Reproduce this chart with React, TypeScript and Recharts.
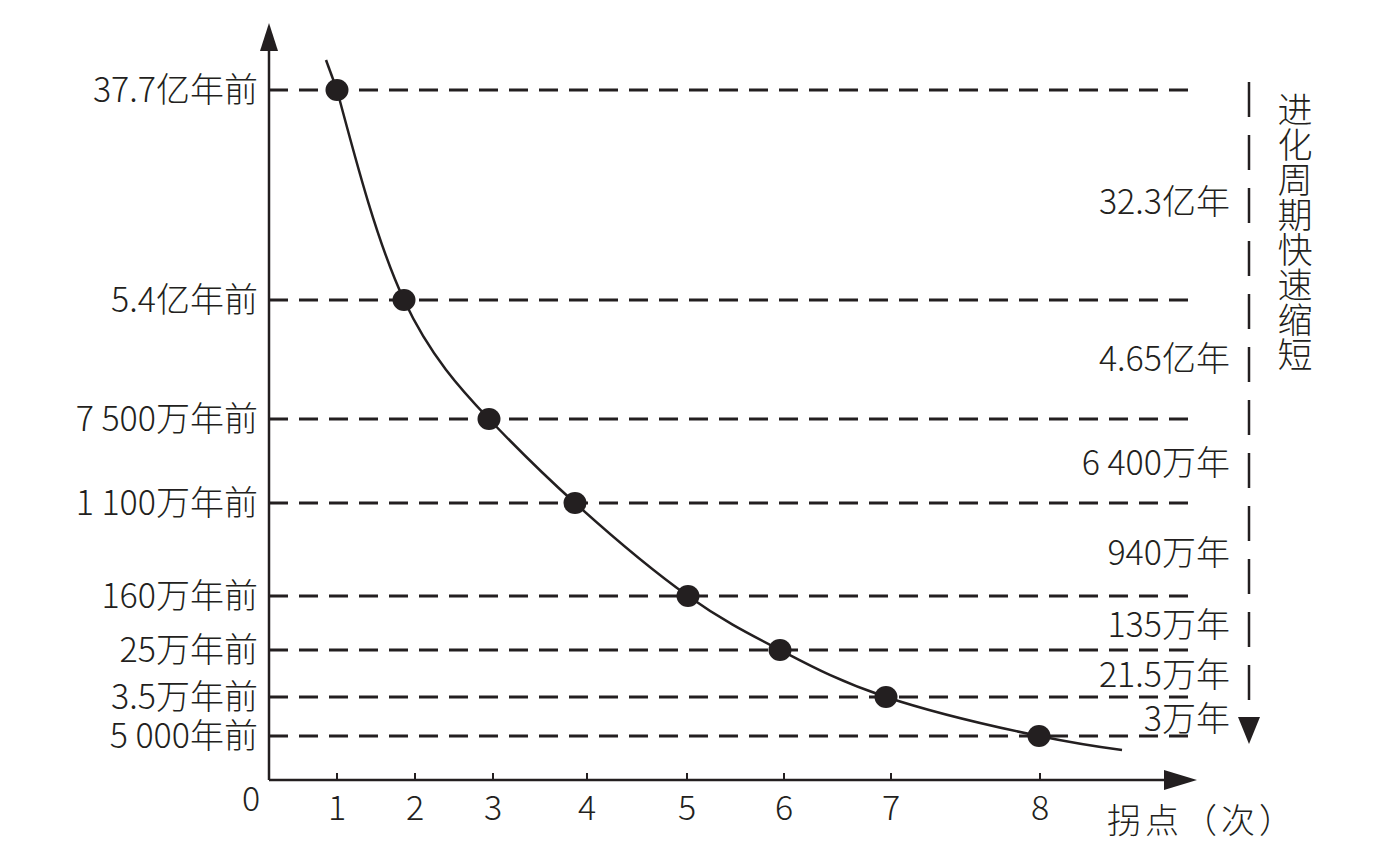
import {
	ComposedChart,
	Line,
	Scatter,
	XAxis,
	YAxis,
	ReferenceLine,
	ReferenceDot,
} from 'recharts';

const FONT = '"Noto Sans CJK SC", "Noto Sans", sans-serif';
const INK = '#231f20';

// 横轴：拐点序号及其在图上的刻度位置（横向单位，读自原图）
const turnLabels = ['1', '2', '3', '4', '5', '6', '7', '8'];
const tickPos = [0.68, 1.46, 2.24, 3.18, 4.18, 5.15, 6.22, 7.71];

// 纵轴：每个拐点所处的年代
const levelLabels = [
	'37.7亿年前',
	'5.4亿年前',
	'7 500万年前',
	'1 100万年前',
	'160万年前',
	'25万年前',
	'3.5万年前',
	'5 000年前',
];
const levelPos = [6.9, 4.8, 3.61, 2.77, 1.84, 1.3, 0.83, 0.44];

// 拐点在横轴上的位置
const pointPos = [0.68, 1.35, 2.2, 3.06, 4.19, 5.11, 6.17, 7.7];

// 曲线两端延伸部分
const curveStart = { x: 0.57, y: 7.2 };
const curveEnd = { x: 8.53, y: 0.3 };

// 右侧：相邻拐点之间的间隔
const spanLabels = ['32.3亿年', '4.65亿年', '6 400万年', '940万年', '135万年', '21.5万年', '3万年'];
const spanPos = [5.78, 4.21, 3.17, 2.27, 1.55, 1.05, 0.61];
const spanX = 9.61;

const sideTitle = '进化周期快速缩短';

const X_MAX = 10.7;
const Y_MAX = 7.6;
const AXIS_END_X = 9.28;
const AXIS_END_Y = 7.57;
const DASH_END_X = 9.3;
const ARROW_X = 9.8;
const ARROW_TOP = 6.98;
const ARROW_BOTTOM = 0.63;
const TITLE_X = 10.26;
const TITLE_TOP = 6.88;

const points = pointPos.map((x, i) => ({ x, y: levelPos[i] }));
const curve = [...points, curveEnd];
const stub = [curveStart, points[0]];
const spans = spanLabels.map((label, i) => ({ x: spanX, y: spanPos[i], label }));

const XTick = (props: any) => {
	const { x, y, payload } = props;
	const idx = tickPos.indexOf(payload.value);
	return (
		<g>
			<line x1={x} y1={y - 7} x2={x} y2={y} stroke={INK} strokeWidth={2} />
			<text
				x={x}
				y={y + 40}
				textAnchor="middle"
				fontSize={34}
				fontFamily={FONT}
				fontWeight={300}
				fill={INK}
			>
				{turnLabels[idx]}
			</text>
		</g>
	);
};

export default function App() {
	return (
		<div style={{ width: 1380, height: 861, background: '#fff' }}>
			<style>{`body { margin: 0; }`}</style>
			<ComposedChart
				width={1380}
				height={861}
				margin={{ top: 20, right: 41, left: 0, bottom: 0 }}
			>
				<XAxis
					type="number"
					dataKey="x"
					domain={[0, X_MAX]}
					ticks={tickPos}
					axisLine={false}
					tickLine={false}
					tickSize={0}
					tickMargin={0}
					height={81}
					interval={0}
					tick={<XTick />}
					allowDataOverflow
				/>
				<YAxis
					type="number"
					dataKey="y"
					domain={[0, Y_MAX]}
					ticks={levelPos}
					axisLine={false}
					tickLine={false}
					tickSize={0}
					tickMargin={11}
					width={269}
					interval={0}
					tickFormatter={(v: number) => levelLabels[levelPos.indexOf(v)]}
					tick={{ fontSize: 34, fontFamily: FONT, fontWeight: 300, fill: INK }}
					allowDataOverflow
				/>

				{/* 虚线：各拐点年代 */}
				{levelPos.map(y => (
					<ReferenceLine
						key={y}
						segment={[
							{ x: 0, y },
							{ x: DASH_END_X, y },
						]}
						stroke={INK}
						strokeWidth={3}
						strokeDasharray="19 11"
					/>
				))}

				{/* 坐标轴 */}
				<ReferenceLine
					segment={[
						{ x: 0, y: 0 },
						{ x: AXIS_END_X - 0.2, y: 0 },
					]}
					stroke={INK}
					strokeWidth={2.5}
				/>
				<ReferenceLine
					segment={[
						{ x: 0, y: 0 },
						{ x: 0, y: AXIS_END_Y - 0.2 },
					]}
					stroke={INK}
					strokeWidth={2.5}
				/>
				<ReferenceDot
					x={AXIS_END_X}
					y={0}
					r={1}
					shape={(p: any) => (
						<path
							d={`M${p.cx},${p.cy} L${p.cx - 33},${p.cy - 10} L${p.cx - 33},${p.cy + 10} Z`}
							fill={INK}
						/>
					)}
				/>
				<ReferenceDot
					x={0}
					y={AXIS_END_Y}
					r={1}
					shape={(p: any) => (
						<path
							d={`M${p.cx},${p.cy} L${p.cx - 9},${p.cy + 28} L${p.cx + 9},${p.cy + 28} Z`}
							fill={INK}
						/>
					)}
				/>
				<ReferenceDot
					x={0}
					y={0}
					r={1}
					shape={(p: any) => (
						<text
							x={p.cx - 18}
							y={p.cy + 31}
							textAnchor="middle"
							fontSize={34}
							fontFamily={FONT}
							fontWeight={300}
							fill={INK}
						>
							0
						</text>
					)}
				/>
				<ReferenceDot
					x={AXIS_END_X}
					y={0}
					r={1}
					shape={(p: any) => (
						<text
							x={p.cx - 90}
							y={p.cy + 53}
							textAnchor="start"
							fontSize={34}
							fontFamily={FONT}
							fontWeight={300}
							letterSpacing={4}
							fill={INK}
						>
							拐点（次）
						</text>
					)}
				/>

				{/* 右侧竖向虚线箭头 */}
				<ReferenceLine
					segment={[
						{ x: ARROW_X, y: ARROW_TOP },
						{ x: ARROW_X, y: ARROW_BOTTOM },
					]}
					stroke={INK}
					strokeWidth={2.5}
					strokeDasharray="35 18"
					ifOverflow="visible"
				/>
				<ReferenceDot
					x={ARROW_X}
					y={ARROW_BOTTOM}
					r={1}
					shape={(p: any) => (
						<path
							d={`M${p.cx - 11},${p.cy} L${p.cx + 11},${p.cy} L${p.cx},${p.cy + 27} Z`}
							fill={INK}
						/>
					)}
				/>
				<ReferenceDot
					x={TITLE_X}
					y={TITLE_TOP}
					r={1}
					shape={(p: any) => (
						<text
							x={p.cx}
							y={p.cy}
							textAnchor="start"
							fontSize={35}
							fontFamily={FONT}
							fontWeight={300}
							fill={INK}
							style={{ writingMode: 'vertical-rl' }}
						>
							{sideTitle}
						</text>
					)}
				/>

				{/* 间隔标注 */}
				<Scatter
					data={spans}
					dataKey="y"
					isAnimationActive={false}
					shape={(p: any) => (
						<text
							x={p.cx}
							y={p.cy}
							dy="0.36em"
							textAnchor="end"
							fontSize={34}
							fontFamily={FONT}
							fontWeight={300}
							fill={INK}
						>
							{p.payload.label}
						</text>
					)}
				/>

				{/* 曲线与拐点 */}
				<Line
					data={stub}
					dataKey="y"
					type="linear"
					stroke={INK}
					strokeWidth={2.5}
					dot={false}
					activeDot={false}
					isAnimationActive={false}
				/>
				<Line
					data={curve}
					dataKey="y"
					type="natural"
					stroke={INK}
					strokeWidth={2.5}
					dot={false}
					activeDot={false}
					isAnimationActive={false}
				/>
				<Scatter
					data={points}
					dataKey="y"
					fill={INK}
					isAnimationActive={false}
					shape={(p: any) => <ellipse cx={p.cx} cy={p.cy} rx={11.5} ry={11} fill={INK} />}
				/>
			</ComposedChart>
		</div>
	);
}
